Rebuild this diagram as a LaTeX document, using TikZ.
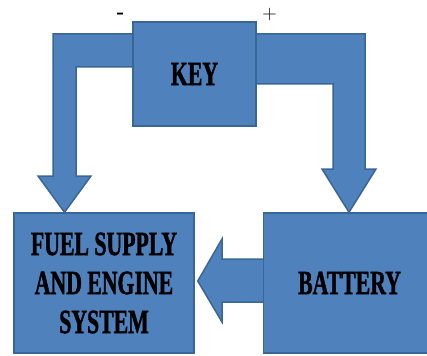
\documentclass[tikz,border=0pt]{standalone}
\usepackage{fontspec}
\usepackage{tikz}
\usetikzlibrary{positioning, backgrounds}
\newfontfamily\boxfont[FakeStretch=0.64, FakeBold=1.2]{Liberation Serif Bold}
\definecolor{boxblue}{HTML}{4F81BD}
\definecolor{edgeblue}{HTML}{3A6597}

\begin{document}
\begin{tikzpicture}[
    x=1pt, y=-1pt,
    node distance=68pt,
    block/.style = {rectangle, draw=edgeblue, line width=1.5pt, fill=boxblue, align=center, inner sep=0pt, font = \boxfont\fontsize{34}{39}\selectfont},
    fatarrow/.style = {draw=edgeblue, line width=1.5pt, fill=boxblue, line join=miter},
    sign/.style = {inner sep=0pt, font = \fontsize{20}{20}\selectfont}]

    \useasboundingbox (0,0) rectangle (427,355);

    \node[block, minimum width=180pt, minimum height=140pt] (fuel) at (104,283) {FUEL SUPPLY\\AND ENGINE\\SYSTEM};
    \node[block, minimum width=172pt, minimum height=140pt, right=of fuel] (battery) {BATTERY};
    \node[block, minimum width=123pt, minimum height=104pt] (key) at (194.5,74) {KEY};
    \node[sign, font=\fontsize{20}{20}\selectfont\bfseries] (minus) at (120.5,15.5) {-};
    \node[sign] (plus) at (269.5,15) {+};

    \begin{pgfonlayer}{background}
    \draw[fatarrow] (key.center |- 0,34) -- (53,34) -- (53,176) -- (38,176) -- (64.5,0 |- fuel.north) -- (91,176) -- (76,176) -- (76,67) -- (key.center |- 0,67) -- cycle;
    \draw[fatarrow] (key.center |- 0,34) -- (365,34) -- (365,169) -- (376,169) -- (349,0 |- battery.north) -- (322,169) -- (333,169) -- (333,84) -- (key.center |- 0,84) -- cycle;
    \draw[fatarrow] ([shift={(3,-2)}]fuel.east) -- (222,239) -- (222,259) -- (battery.center |- 0,259) -- (battery.center |- 0,302) -- (222,302) -- (222,322) -- cycle;
    \end{pgfonlayer}

\end{tikzpicture}
\end{document}
